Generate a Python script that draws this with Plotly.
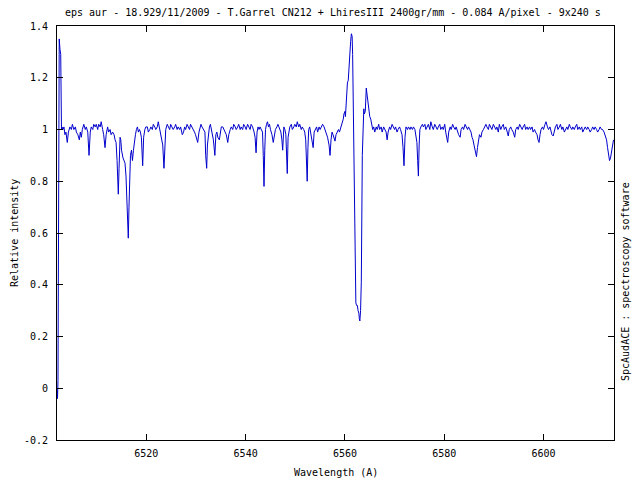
import plotly.graph_objects as go

# (wavelength [A], relative intensity), segment by segment
seg_edge = [(6502.0, 0.00), (6502.1, -0.04), (6502.2, 0.03), (6502.3, 1.30), (6502.45, 1.35),
            (6502.6, 1.31), (6502.75, 1.29), (6502.9, 1.00)]

seg_6503_6520 = [
    (6503.0, 1.01), (6503.2, 1.00), (6503.4, 1.01), (6503.6, 0.98), (6503.8, 0.99), (6504.07, 0.95),
    (6504.3, 0.99), (6504.6, 1.01), (6504.9, 1.00), (6505.1, 1.02), (6505.4, 1.00), (6505.7, 1.01),
    (6505.9, 0.99), (6506.2, 0.98), (6506.5, 0.96), (6506.7, 0.99), (6506.9, 0.97), (6507.1, 1.00),
    (6507.4, 1.02), (6507.7, 1.00), (6507.9, 1.01), (6508.2, 0.99), (6508.45, 0.90), (6508.7, 0.99),
    (6508.9, 1.01), (6509.2, 1.00), (6509.4, 1.02), (6509.7, 1.01), (6509.9, 1.02), (6510.2, 1.00),
    (6510.4, 1.02), (6510.7, 1.01), (6510.9, 1.03), (6511.2, 1.00), (6511.4, 0.98), (6511.67, 0.93),
    (6511.9, 0.98), (6512.2, 1.01), (6512.4, 0.99), (6512.7, 1.00), (6512.9, 0.98), (6513.2, 0.99),
    (6513.5, 0.98), (6513.7, 0.96), (6513.9, 0.95), (6514.1, 0.88), (6514.35, 0.75), (6514.5, 0.85),
    (6514.7, 0.97), (6514.85, 0.96), (6515.0, 0.92), (6515.3, 0.89), (6515.5, 0.88), (6515.7, 0.87),
    (6515.9, 0.82), (6516.1, 0.72), (6516.25, 0.62), (6516.36, 0.58), (6516.5, 0.70), (6516.6, 0.82),
    (6516.8, 0.90), (6517.0, 0.92), (6517.2, 0.88), (6517.4, 0.92), (6517.6, 0.96), (6517.8, 0.98),
    (6518.0, 1.00), (6518.2, 1.01), (6518.4, 0.99), (6518.6, 1.00), (6518.8, 0.99), (6519.0, 0.97),
    (6519.26, 0.86), (6519.45, 0.97), (6519.7, 1.00), (6519.9, 1.01)]

seg_6520_6542 = [
    (6520.2, 1.01), (6520.4, 0.99), (6520.7, 1.00), (6520.9, 1.01), (6521.2, 1.00), (6521.4, 1.02),
    (6521.7, 1.01), (6521.9, 1.00), (6522.2, 1.01), (6522.4, 1.03), (6522.6, 1.01), (6522.8, 0.99),
    (6523.09, 0.96), (6523.3, 0.94), (6523.55, 0.85), (6523.75, 0.96), (6523.9, 1.00), (6524.2, 1.02),
    (6524.4, 1.01), (6524.7, 1.00), (6524.9, 1.02), (6525.2, 1.01), (6525.4, 1.00), (6525.7, 1.01),
    (6525.9, 1.02), (6526.2, 1.00), (6526.4, 1.01), (6526.7, 1.00), (6526.9, 1.01), (6527.24, 0.98),
    (6527.5, 0.99), (6527.7, 1.01), (6527.9, 1.00), (6528.2, 1.02), (6528.4, 1.01), (6528.7, 1.00),
    (6528.9, 1.02), (6529.2, 1.01), (6529.4, 1.00), (6529.7, 0.99), (6529.9, 0.98), (6530.1, 0.97),
    (6530.34, 0.95), (6530.6, 0.99), (6530.8, 1.01), (6531.0, 1.02), (6531.2, 1.01), (6531.5, 1.00),
    (6531.8, 0.99), (6531.95, 0.90), (6532.15, 0.85), (6532.3, 0.94), (6532.5, 0.99), (6532.7, 1.01),
    (6532.9, 1.02), (6533.1, 1.00), (6533.3, 0.98), (6533.5, 0.96), (6533.8, 0.90), (6534.0, 0.98),
    (6534.2, 0.99), (6534.4, 0.97), (6534.7, 0.96), (6534.9, 1.00), (6535.1, 1.01), (6535.4, 1.01),
    (6535.6, 1.00), (6535.9, 0.99), (6536.1, 0.98), (6536.4, 0.95), (6536.6, 0.98), (6536.9, 1.00),
    (6537.1, 1.01), (6537.4, 1.00), (6537.6, 1.02), (6537.9, 1.01), (6538.1, 1.00), (6538.4, 1.01),
    (6538.6, 1.02), (6538.9, 1.00), (6539.1, 1.01), (6539.4, 1.00), (6539.6, 1.02), (6539.9, 1.01),
    (6540.1, 1.00), (6540.4, 1.02), (6540.6, 1.01), (6540.9, 1.00), (6541.1, 1.02), (6541.4, 1.01),
    (6541.7, 0.99), (6541.9, 0.97)]

seg_6542_6559 = [
    (6542.1, 0.91), (6542.3, 0.99), (6542.5, 1.01), (6542.7, 1.00), (6542.9, 1.01), (6543.1, 1.00),
    (6543.4, 0.99), (6543.55, 0.90), (6543.7, 0.78), (6543.85, 0.92), (6544.0, 1.00), (6544.2, 1.02),
    (6544.4, 1.03), (6544.6, 1.01), (6544.8, 1.02), (6545.0, 1.00), (6545.3, 0.98), (6545.56, 0.95),
    (6545.8, 0.98), (6546.0, 1.00), (6546.3, 1.01), (6546.5, 1.02), (6546.7, 1.01), (6546.9, 1.00),
    (6547.1, 0.99), (6547.3, 0.96), (6547.46, 0.92), (6547.7, 1.01), (6547.9, 1.00), (6548.1, 0.98),
    (6548.25, 0.90), (6548.38, 0.83), (6548.55, 0.97), (6548.7, 1.00), (6548.9, 1.01), (6549.2, 1.02),
    (6549.4, 1.00), (6549.7, 1.01), (6549.9, 1.02), (6550.2, 1.01), (6550.4, 1.03), (6550.7, 1.01),
    (6550.9, 1.02), (6551.2, 1.00), (6551.4, 1.01), (6551.7, 1.00), (6551.9, 0.99), (6552.1, 0.96),
    (6552.25, 0.88), (6552.4, 0.80), (6552.55, 0.93), (6552.7, 1.00), (6552.9, 1.01), (6553.1, 0.99),
    (6553.3, 0.97), (6553.6, 0.93), (6553.8, 0.99), (6554.0, 1.00), (6554.3, 1.01), (6554.5, 0.99),
    (6554.8, 1.01), (6555.0, 1.00), (6555.3, 1.01), (6555.5, 1.02), (6555.8, 1.01), (6556.0, 1.00),
    (6556.3, 0.98), (6556.5, 0.97), (6556.8, 0.94), (6557.0, 0.90), (6557.2, 0.96), (6557.4, 0.99),
    (6557.6, 0.98), (6557.8, 0.97), (6558.0, 0.955), (6558.2, 0.98), (6558.5, 0.99), (6558.7, 1.00),
    (6558.9, 0.99), (6559.2, 1.01), (6559.4, 1.02)]

seg_halpha = [
    (6559.66, 1.04), (6559.8, 1.06), (6560.0, 1.07), (6560.1, 1.05), (6560.25, 1.10), (6560.35, 1.15),
    (6560.5, 1.18), (6560.67, 1.19), (6560.8, 1.24), (6561.0, 1.29), (6561.15, 1.34), (6561.3, 1.37),
    (6561.45, 1.36), (6561.55, 1.29), (6561.7, 1.08), (6561.9, 0.80), (6562.1, 0.39), (6562.2, 0.33),
    (6562.35, 0.32), (6562.5, 0.32), (6562.65, 0.30), (6562.8, 0.29), (6562.9, 0.27), (6563.0, 0.26),
    (6563.15, 0.30), (6563.3, 0.41), (6563.5, 0.90), (6563.7, 1.05), (6563.8, 1.08), (6563.9, 1.06),
    (6564.1, 1.07), (6564.3, 1.16), (6564.4, 1.14), (6564.5, 1.12), (6564.65, 1.09), (6564.8, 1.06),
    (6565.0, 1.05), (6565.2, 1.04), (6565.4, 1.02)]

seg_6565_6587 = [
    (6565.6, 1.00), (6565.8, 1.01), (6566.0, 0.99), (6566.3, 1.01), (6566.5, 1.00), (6566.8, 1.02),
    (6567.0, 1.00), (6567.3, 1.01), (6567.5, 0.99), (6567.8, 1.01), (6568.0, 1.00), (6568.3, 0.99),
    (6568.5, 0.96), (6568.7, 0.99), (6569.0, 1.01), (6569.2, 1.00), (6569.5, 1.02), (6569.7, 1.01),
    (6570.0, 1.00), (6570.2, 1.01), (6570.5, 0.99), (6570.7, 1.00), (6571.0, 1.01), (6571.2, 1.00),
    (6571.5, 0.98), (6571.7, 0.93), (6571.9, 0.86), (6572.1, 0.97), (6572.3, 1.01), (6572.6, 1.00),
    (6572.8, 1.01), (6573.1, 1.00), (6573.3, 1.01), (6573.6, 1.00), (6573.8, 1.01), (6574.1, 1.00),
    (6574.3, 0.97), (6574.5, 0.95), (6574.65, 0.88), (6574.8, 0.82), (6574.95, 0.94), (6575.1, 1.00),
    (6575.3, 1.01), (6575.6, 1.02), (6575.8, 1.01), (6576.1, 1.02), (6576.3, 1.00), (6576.6, 1.01),
    (6576.8, 1.02), (6577.1, 1.00), (6577.3, 1.03), (6577.6, 1.01), (6577.8, 1.00), (6578.1, 1.02),
    (6578.3, 1.01), (6578.6, 1.00), (6578.8, 1.01), (6579.1, 1.02), (6579.3, 1.00), (6579.6, 1.01),
    (6579.8, 1.00), (6580.1, 1.02), (6580.3, 0.99), (6580.5, 0.97), (6580.7, 0.95), (6580.9, 0.99),
    (6581.2, 1.01), (6581.4, 1.00), (6581.7, 1.02), (6581.9, 1.01), (6582.2, 1.00), (6582.4, 1.01),
    (6582.7, 0.99), (6582.9, 0.98), (6583.2, 0.97), (6583.4, 1.00), (6583.7, 1.01), (6583.9, 1.00),
    (6584.2, 1.02), (6584.4, 1.01), (6584.7, 1.00), (6584.9, 1.01), (6585.2, 1.00), (6585.4, 0.99),
    (6585.6, 0.97), (6585.8, 0.96), (6586.0, 0.94), (6586.2, 0.92), (6586.5, 0.895), (6586.7, 0.93),
    (6586.9, 0.96)]

seg_6587_6614 = [
    (6587.1, 0.98), (6587.4, 0.97), (6587.6, 0.99), (6587.9, 1.00), (6588.1, 1.01), (6588.4, 1.02),
    (6588.6, 1.01), (6588.9, 1.00), (6589.1, 1.02), (6589.4, 1.01), (6589.6, 1.00), (6589.9, 1.02),
    (6590.1, 1.01), (6590.4, 1.00), (6590.6, 1.01), (6590.9, 0.99), (6591.1, 1.02), (6591.4, 1.00),
    (6591.6, 1.01), (6591.9, 1.02), (6592.1, 1.00), (6592.4, 1.01), (6592.7, 0.99), (6592.9, 0.975),
    (6593.1, 1.00), (6593.4, 1.01), (6593.6, 1.00), (6593.9, 0.99), (6594.2, 0.97), (6594.4, 1.00),
    (6594.7, 1.01), (6594.9, 1.00), (6595.2, 1.02), (6595.4, 1.01), (6595.7, 1.00), (6595.9, 1.01),
    (6596.2, 1.02), (6596.4, 1.00), (6596.7, 1.01), (6596.9, 1.00), (6597.2, 1.01), (6597.4, 1.00),
    (6597.7, 1.01), (6597.9, 0.99), (6598.2, 1.00), (6598.4, 0.99), (6598.7, 0.98), (6598.9, 0.96),
    (6599.1, 0.95), (6599.3, 0.98), (6599.5, 1.00), (6599.8, 1.01), (6600.0, 1.00), (6600.3, 1.02),
    (6600.5, 1.03), (6600.8, 1.01), (6601.0, 1.00), (6601.3, 1.01), (6601.5, 0.99), (6601.7, 0.98),
    (6601.95, 0.975), (6602.2, 1.00), (6602.4, 1.01), (6602.7, 1.02), (6602.9, 1.00), (6603.2, 1.01),
    (6603.4, 1.02), (6603.7, 1.00), (6603.9, 1.01), (6604.2, 0.99), (6604.4, 1.00), (6604.7, 1.01),
    (6604.9, 1.00), (6605.2, 1.02), (6605.4, 1.01), (6605.7, 1.00), (6605.9, 1.01), (6606.2, 1.00),
    (6606.4, 1.01), (6606.7, 1.02), (6606.9, 1.00), (6607.2, 1.01), (6607.4, 1.00), (6607.7, 1.01),
    (6607.9, 0.99), (6608.2, 1.00), (6608.4, 1.01), (6608.7, 1.00), (6608.9, 1.01), (6609.2, 1.00),
    (6609.4, 0.99), (6609.7, 1.00), (6609.9, 1.01), (6610.2, 1.00), (6610.4, 1.01), (6610.7, 1.00),
    (6610.9, 0.99), (6611.2, 1.00), (6611.4, 1.01), (6611.7, 1.00), (6611.9, 1.00), (6612.2, 0.99),
    (6612.5, 0.97), (6612.7, 0.96), (6612.9, 0.93), (6613.1, 0.90), (6613.3, 0.88), (6613.5, 0.89),
    (6613.7, 0.92), (6613.9, 0.95), (6614.1, 0.96)]

x_ticks = [6520, 6540, 6560, 6580, 6600]
y_ticks = [-0.2, 0, 0.2, 0.4, 0.6, 0.8, 1, 1.2, 1.4]
y_tick_text = ["-0.2", "0", "0.2", "0.4", "0.6", "0.8", "1", "1.2", "1.4"]
x_range = [6502.0, 6614.2]
y_range = [-0.2, 1.4]

title_text = "eps aur - 18.929/11/2009 - T.Garrel CN212 + LhiresIII 2400gr/mm - 0.084 A/pixel - 9x240 s"
x_title = "Wavelength (A)"
y_title = "Relative intensity"
side_text = "SpcAudACE : spectroscopy software"

spectrum = seg_edge + seg_6503_6520 + seg_6520_6542 + seg_6542_6559 + seg_halpha + seg_6565_6587 + seg_6587_6614
wl = [p[0] for p in spectrum]
inten = [p[1] for p in spectrum]

FONT = "DejaVu Sans Mono"
TXT = dict(family=FONT, size=10, color="black")

fig = go.Figure()
fig.add_trace(go.Scatter(x=wl, y=inten, mode="lines",
                         line=dict(color="#0000cc", width=1), showlegend=False,
                         hoverinfo="skip"))

axis_common = dict(showline=True, linecolor="black", linewidth=1, mirror="ticks",
                   ticks="inside", ticklen=6, tickcolor="black", tickwidth=1,
                   showgrid=False, zeroline=False, automargin=False,
                   tickfont=TXT)

fig.update_xaxes(range=x_range, tickvals=x_ticks, ticktext=[str(v) for v in x_ticks],
                 ticklabelstandoff=4, **axis_common)
fig.update_yaxes(range=y_range, tickvals=y_ticks, ticktext=y_tick_text,
                 ticklabelstandoff=6, **axis_common)

# the page body adds an 8 px offset, so the figure is 632x472 with margins reduced by 8
fig.update_layout(
    width=632, height=472,
    margin=dict(l=49, r=26, t=18, b=40, autoexpand=False),
    paper_bgcolor="white", plot_bgcolor="white",
    annotations=[
        dict(text=title_text, xref="paper", yref="paper", x=0.496, y=1.0338,
             xanchor="center", yanchor="middle", showarrow=False, font=TXT),
        dict(text=x_title, xref="paper", yref="paper", x=0.5, y=-0.0773,
             xanchor="center", yanchor="middle", showarrow=False, font=TXT),
        dict(text=y_title, xref="paper", yref="paper", x=-0.0772, y=0.5,
             xanchor="center", yanchor="middle", textangle=-90, showarrow=False, font=TXT),
        dict(text=side_text, xref="paper", yref="paper", x=1.0197, y=0.384,
             xanchor="center", yanchor="middle", textangle=-90, showarrow=False, font=TXT),
    ],
)

fig.write_html("out.html")
